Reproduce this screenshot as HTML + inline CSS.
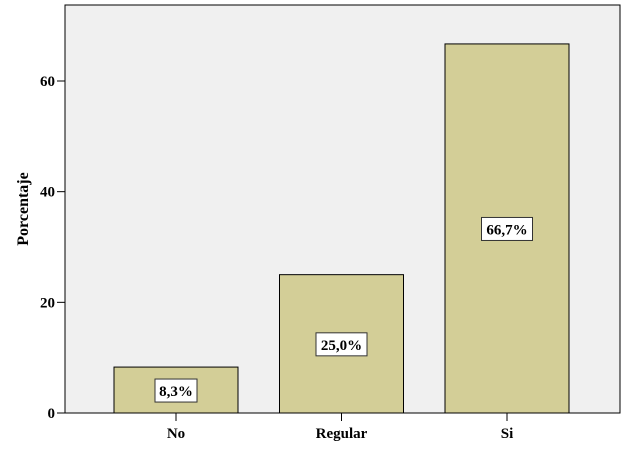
<!DOCTYPE html>
<html><head><meta charset="utf-8"><style>
body{margin:0;background:#fff;width:625px;height:448px;overflow:hidden}
text{font-family:"Liberation Serif",serif;font-weight:bold;fill:#000}
</style></head><body>
<svg width="625" height="448">
<rect x="65" y="5" width="555" height="408" fill="#f0f0f0" stroke="#000" stroke-width="1"/>
<g id="ticks"></g><g id="bars"></g>
<text x="28" y="209" font-size="16" text-anchor="middle" transform="rotate(-90 28 209)">Porcentaje</text>
</svg>
<script>
const categories=["No","Regular","Si"];
const values=[8.3,25.0,66.7];
const labels=["8,3%","25,0%","66,7%"];
const yTicks=[0,20,40,60];
const y=v=>413-v*(332/60);
const xc=i=>176+i*165.5;
const NS="http://www.w3.org/2000/svg";
function mk(t,a,p){const e=document.createElementNS(NS,t);for(const k in a)e.setAttribute(k,a[k]);p.appendChild(e);return e;}
const tg=document.getElementById('ticks'),bg=document.getElementById('bars');
yTicks.forEach(v=>{
 const l=mk('line',{x1:57,x2:65,y1:y(v),y2:y(v),stroke:'#000'},tg);
 
 
 const t=mk('text',{x:55,y:y(v)+5,'font-size':15,'text-anchor':'end'},tg);t.textContent=v;
 
 
});
categories.forEach((c,i)=>{
 const cx=xc(i);
 const r=mk('rect',{x:cx-62,y:y(values[i]),width:124,height:413-y(values[i]),fill:'#d3ce97',stroke:'#000'},bg);
 
 
 const tk=mk('line',{x1:cx,x2:cx,y1:413,y2:421,stroke:'#000'},bg);
 
 
 const t=mk('text',{x:cx,y:438,'font-size':15,'text-anchor':'middle'},bg);t.textContent=c;
 
 
 const my=y(values[i]/2);
 const w=labels[i].length*9+6;
 const b=mk('rect',{x:cx-w/2,y:my-11,width:w,height:23,fill:'#fff',stroke:'#333'},bg);
 
 
 const lt=mk('text',{x:cx,y:my+6,'font-size':15,'text-anchor':'middle'},bg);lt.textContent=labels[i];
 
 
});
</script>
</body></html>
